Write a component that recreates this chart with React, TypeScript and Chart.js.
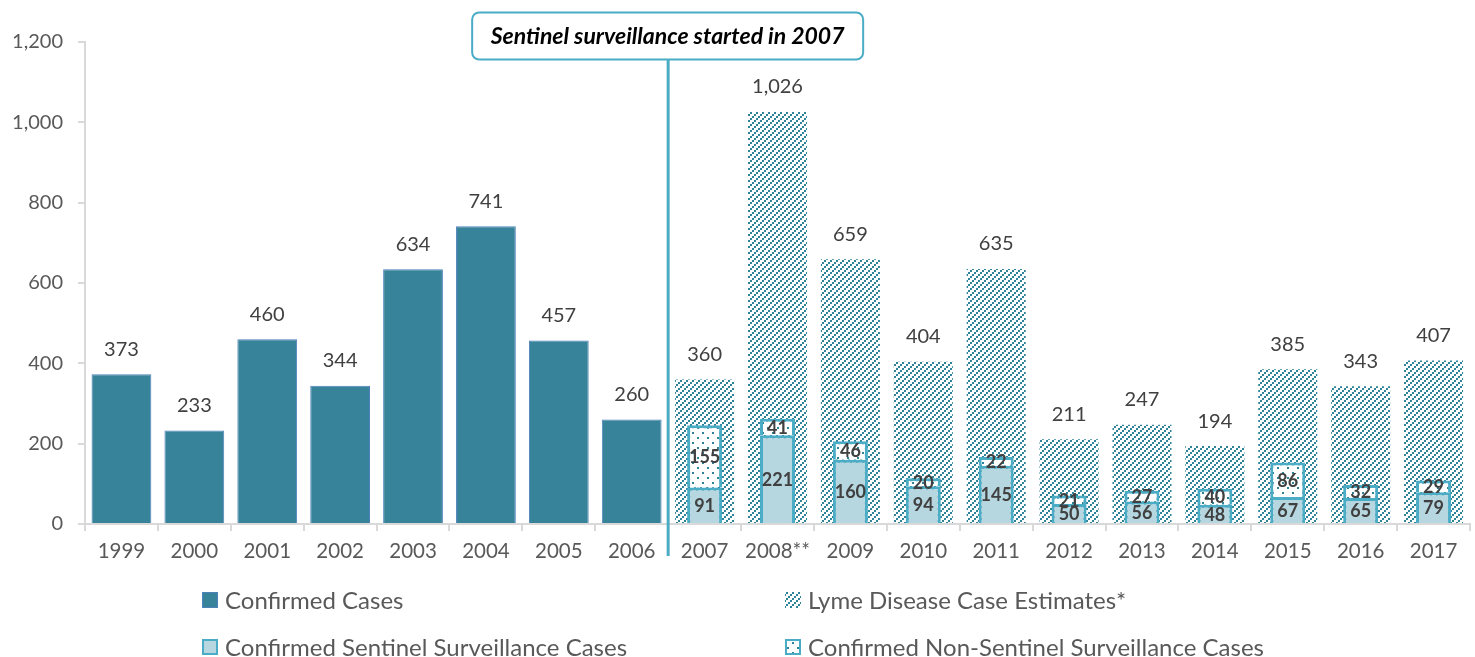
import React, { useEffect, useRef } from "react";
import { Chart, registerables } from "chart.js";

Chart.register(...registerables);

// ---- data ----
const years = [
  "1999", "2000", "2001", "2002", "2003", "2004", "2005", "2006",
  "2007", "2008**", "2009", "2010", "2011", "2012", "2013", "2014", "2015", "2016", "2017",
];
const confirmedCases = [373, 233, 460, 344, 634, 741, 457, 260, null, null, null, null, null, null, null, null, null, null, null];
const caseEstimates = [null, null, null, null, null, null, null, null, 360, 1026, 659, 404, 635, 211, 247, 194, 385, 343, 407];
const sentinelCases = [null, null, null, null, null, null, null, null, 91, 221, 160, 94, 145, 50, 56, 48, 67, 65, 79];
const nonSentinelCases = [null, null, null, null, null, null, null, null, 155, 41, 46, 20, 22, 21, 27, 40, 86, 32, 29];
const yMax = 1200;
const yStep = 200;
const legendLabels = [
  "Confirmed Cases",
  "Lyme Disease Case Estimates*",
  "Confirmed Sentinel Surveillance Cases",
  "Confirmed Non-Sentinel Surveillance Cases",
];
const annotationText = "Sentinel surveillance started in 2007";
const annotationAfterIndex = 7; // line sits between 2006 and 2007

// ---- styling ----
const FONT = "Lato";
const DARK_TEAL = "#37849A";
const HATCH = "#2E8399";
const LIGHT_TEAL = "#4BACC6";
const SENTINEL_FILL = "#B6D6E0";
const CONFIRMED_BORDER = "#4F81BD";
const AXIS_GREY = "#D9D9D9";
const TICK_TEXT = "#595959";
const VALUE_TEXT = "#404040";

// upward diagonal made of 2px steps
function makeHatch(): CanvasPattern | string {
  const c = document.createElement("canvas");
  c.width = 6;
  c.height = 6;
  const g = c.getContext("2d");
  if (!g) return HATCH;
  g.fillStyle = HATCH;
  g.fillRect(0, 4, 2, 2);
  g.fillRect(2, 2, 2, 2);
  g.fillRect(4, 0, 2, 2);
  return g.createPattern(c, "repeat") || HATCH;
}

function makeDots(): CanvasPattern | string {
  const c = document.createElement("canvas");
  c.width = 10;
  c.height = 10;
  const g = c.getContext("2d");
  if (!g) return "#fff";
  g.fillStyle = "#ffffff";
  g.fillRect(0, 0, 10, 10);
  g.fillStyle = HATCH;
  g.fillRect(2, 2, 2, 2);
  g.fillRect(7, 7, 2, 2);
  return g.createPattern(c, "repeat") || "#fff";
}

const fmt = (v: number) => v.toLocaleString("en-US");

export default function App() {
  const canvasRef = useRef<HTMLCanvasElement | null>(null);

  useEffect(() => {
    const canvas = canvasRef.current;
    if (!canvas) return;
    const hatch = makeHatch();
    const dots = makeDots();

    const valueLabels = {
      id: "valueLabels",
      afterDatasetsDraw(chart: any) {
        const ctx = chart.ctx;
        ctx.save();
        ctx.textAlign = "center";
        ctx.textBaseline = "middle";
        chart.data.datasets.forEach((ds: any, di: number) => {
          const meta = chart.getDatasetMeta(di);
          meta.data.forEach((bar: any, i: number) => {
            const v = ds.data[i];
            if (v == null) return;
            if (ds.labelMode === "top") {
              ctx.font = `400 20px ${FONT}`;
              ctx.fillStyle = VALUE_TEXT;
              ctx.fillText(fmt(v), bar.x, bar.y - 25);
            } else if (ds.labelMode === "inside") {
              ctx.font = `700 18px ${FONT}`;
              ctx.fillStyle = VALUE_TEXT;
              ctx.fillText(fmt(v), bar.x, (bar.y + bar.base) / 2 + 1);
            }
          });
        });
        ctx.restore();
      },
    };

    const annotation = {
      id: "annotation",
      afterDraw(chart: any) {
        const ctx = chart.ctx;
        const xs = chart.scales.x;
        const lineX =
          (xs.getPixelForValue(annotationAfterIndex) + xs.getPixelForValue(annotationAfterIndex + 1)) / 2;
        const boxW = 391;
        const boxH = 47;
        const boxTop = 12.5;
        const boxLeft = lineX - 196;
        ctx.save();
        ctx.strokeStyle = LIGHT_TEAL;
        ctx.lineWidth = 3;
        ctx.beginPath();
        ctx.moveTo(lineX, boxTop + boxH);
        ctx.lineTo(lineX, chart.chartArea.bottom + 32);
        ctx.stroke();
        ctx.fillStyle = "#ffffff";
        ctx.lineWidth = 2;
        ctx.beginPath();
        ctx.roundRect(boxLeft, boxTop, boxW, boxH, 7);
        ctx.fill();
        ctx.stroke();
        ctx.fillStyle = "#000000";
        ctx.font = `italic 700 23px ${FONT}`;
        ctx.textAlign = "center";
        ctx.textBaseline = "middle";
        ctx.fillText(annotationText, boxLeft + boxW / 2, boxTop + boxH / 2 + 1);
        ctx.restore();
      },
    };

    const legend = {
      id: "gridLegend",
      afterDraw(chart: any) {
        const ctx = chart.ctx;
        const cols = [202, 785];
        const rows = [600, 647];
        const box = 16;
        ctx.save();
        ctx.font = `400 24px ${FONT}`;
        ctx.textBaseline = "middle";
        ctx.textAlign = "left";
        legendLabels.forEach((text, k) => {
          const x = cols[k % 2];
          const y = rows[Math.floor(k / 2)];
          const top = y - box / 2;
          if (k === 0) {
            ctx.fillStyle = DARK_TEAL;
            ctx.fillRect(x, top, box, box);
            ctx.strokeStyle = CONFIRMED_BORDER;
            ctx.lineWidth = 1;
            ctx.strokeRect(x + 0.5, top + 0.5, box - 1, box - 1);
          } else if (k === 1) {
            ctx.fillStyle = hatch;
            ctx.fillRect(x, top, box, box);
          } else {
            ctx.fillStyle = k === 2 ? SENTINEL_FILL : dots;
            ctx.fillRect(x, top, box, box);
            ctx.strokeStyle = LIGHT_TEAL;
            ctx.lineWidth = 2;
            ctx.strokeRect(x + 1, top + 1, box - 2, box - 2);
          }
          ctx.fillStyle = TICK_TEXT;
          ctx.fillText(text, x + box + 7, y + 1);
        });
        ctx.restore();
      },
    };

    const chart = new Chart(canvas, {
      type: "bar",
      data: {
        labels: years,
        datasets: [
          {
            label: legendLabels[2],
            data: sentinelCases,
            stack: "surveillance",
            backgroundColor: SENTINEL_FILL,
            borderColor: LIGHT_TEAL,
            borderWidth: 3,
            barPercentage: 0.48,
            categoryPercentage: 1,
            grouped: false,
            labelMode: "inside",
          } as any,
          {
            label: legendLabels[3],
            data: nonSentinelCases,
            stack: "surveillance",
            backgroundColor: dots,
            borderColor: LIGHT_TEAL,
            borderWidth: { top: 3, left: 3, right: 3, bottom: 0 },
            barPercentage: 0.48,
            categoryPercentage: 1,
            grouped: false,
            labelMode: "inside",
          } as any,
          {
            label: legendLabels[0],
            data: confirmedCases,
            stack: "confirmed",
            backgroundColor: DARK_TEAL,
            borderColor: CONFIRMED_BORDER,
            borderWidth: 1,
            barPercentage: 0.82,
            categoryPercentage: 1,
            grouped: false,
            labelMode: "top",
          } as any,
          {
            label: legendLabels[1],
            data: caseEstimates,
            stack: "estimates",
            backgroundColor: hatch,
            borderWidth: 0,
            barPercentage: 0.81,
            categoryPercentage: 1,
            grouped: false,
            labelMode: "top",
          } as any,
        ],
      },
      options: {
        animation: false,
        responsive: true,
        maintainAspectRatio: false,
        layout: { padding: { top: 42, right: 5, left: 0, bottom: 0 } },
        font: { family: FONT },
        plugins: {
          legend: { display: false },
          tooltip: { enabled: false },
        },
        scales: {
          x: {
            stacked: false,
            offset: true,
            grid: {
              display: true,
              offset: true,
              drawOnChartArea: false,
              drawTicks: true,
              tickLength: 7,
              color: AXIS_GREY,
              lineWidth: 2,
            },
            border: { display: true, color: AXIS_GREY, width: 2 },
            ticks: {
              color: TICK_TEXT,
              font: { family: FONT, size: 20.5 },
              padding: 8,
              maxRotation: 0,
              autoSkip: false,
            },
            afterFit(scale: any) {
              scale.height = 133;
            },
          },
          y: {
            stacked: true,
            min: 0,
            max: yMax,
            grid: {
              display: true,
              drawOnChartArea: false,
              drawTicks: true,
              tickLength: 7,
              color: AXIS_GREY,
              lineWidth: 2,
            },
            border: { display: true, color: AXIS_GREY, width: 2 },
            ticks: {
              stepSize: yStep,
              color: TICK_TEXT,
              font: { family: FONT, size: 20 },
              padding: 15,
              callback: (v: any) => fmt(Number(v)),
            },
            afterFit(scale: any) {
              scale.width = 85;
            },
          },
        },
      } as any,
      plugins: [valueLabels, annotation, legend],
    });

    let alive = true;
    if ((document as any).fonts) {
      Promise.all([
        document.fonts.load(`400 20px ${FONT}`),
        document.fonts.load(`700 18px ${FONT}`),
        document.fonts.load(`italic 700 23px ${FONT}`),
      ]).then(() => {
        if (alive) chart.update();
      }).catch(() => {});
    }

    return () => {
      alive = false;
      chart.destroy();
    };
  }, []);

  return (
    <div style={{ position: "fixed", left: 0, top: 0, width: 1475, height: 657, background: "#fff" }}>
      <canvas ref={canvasRef} />
    </div>
  );
}
